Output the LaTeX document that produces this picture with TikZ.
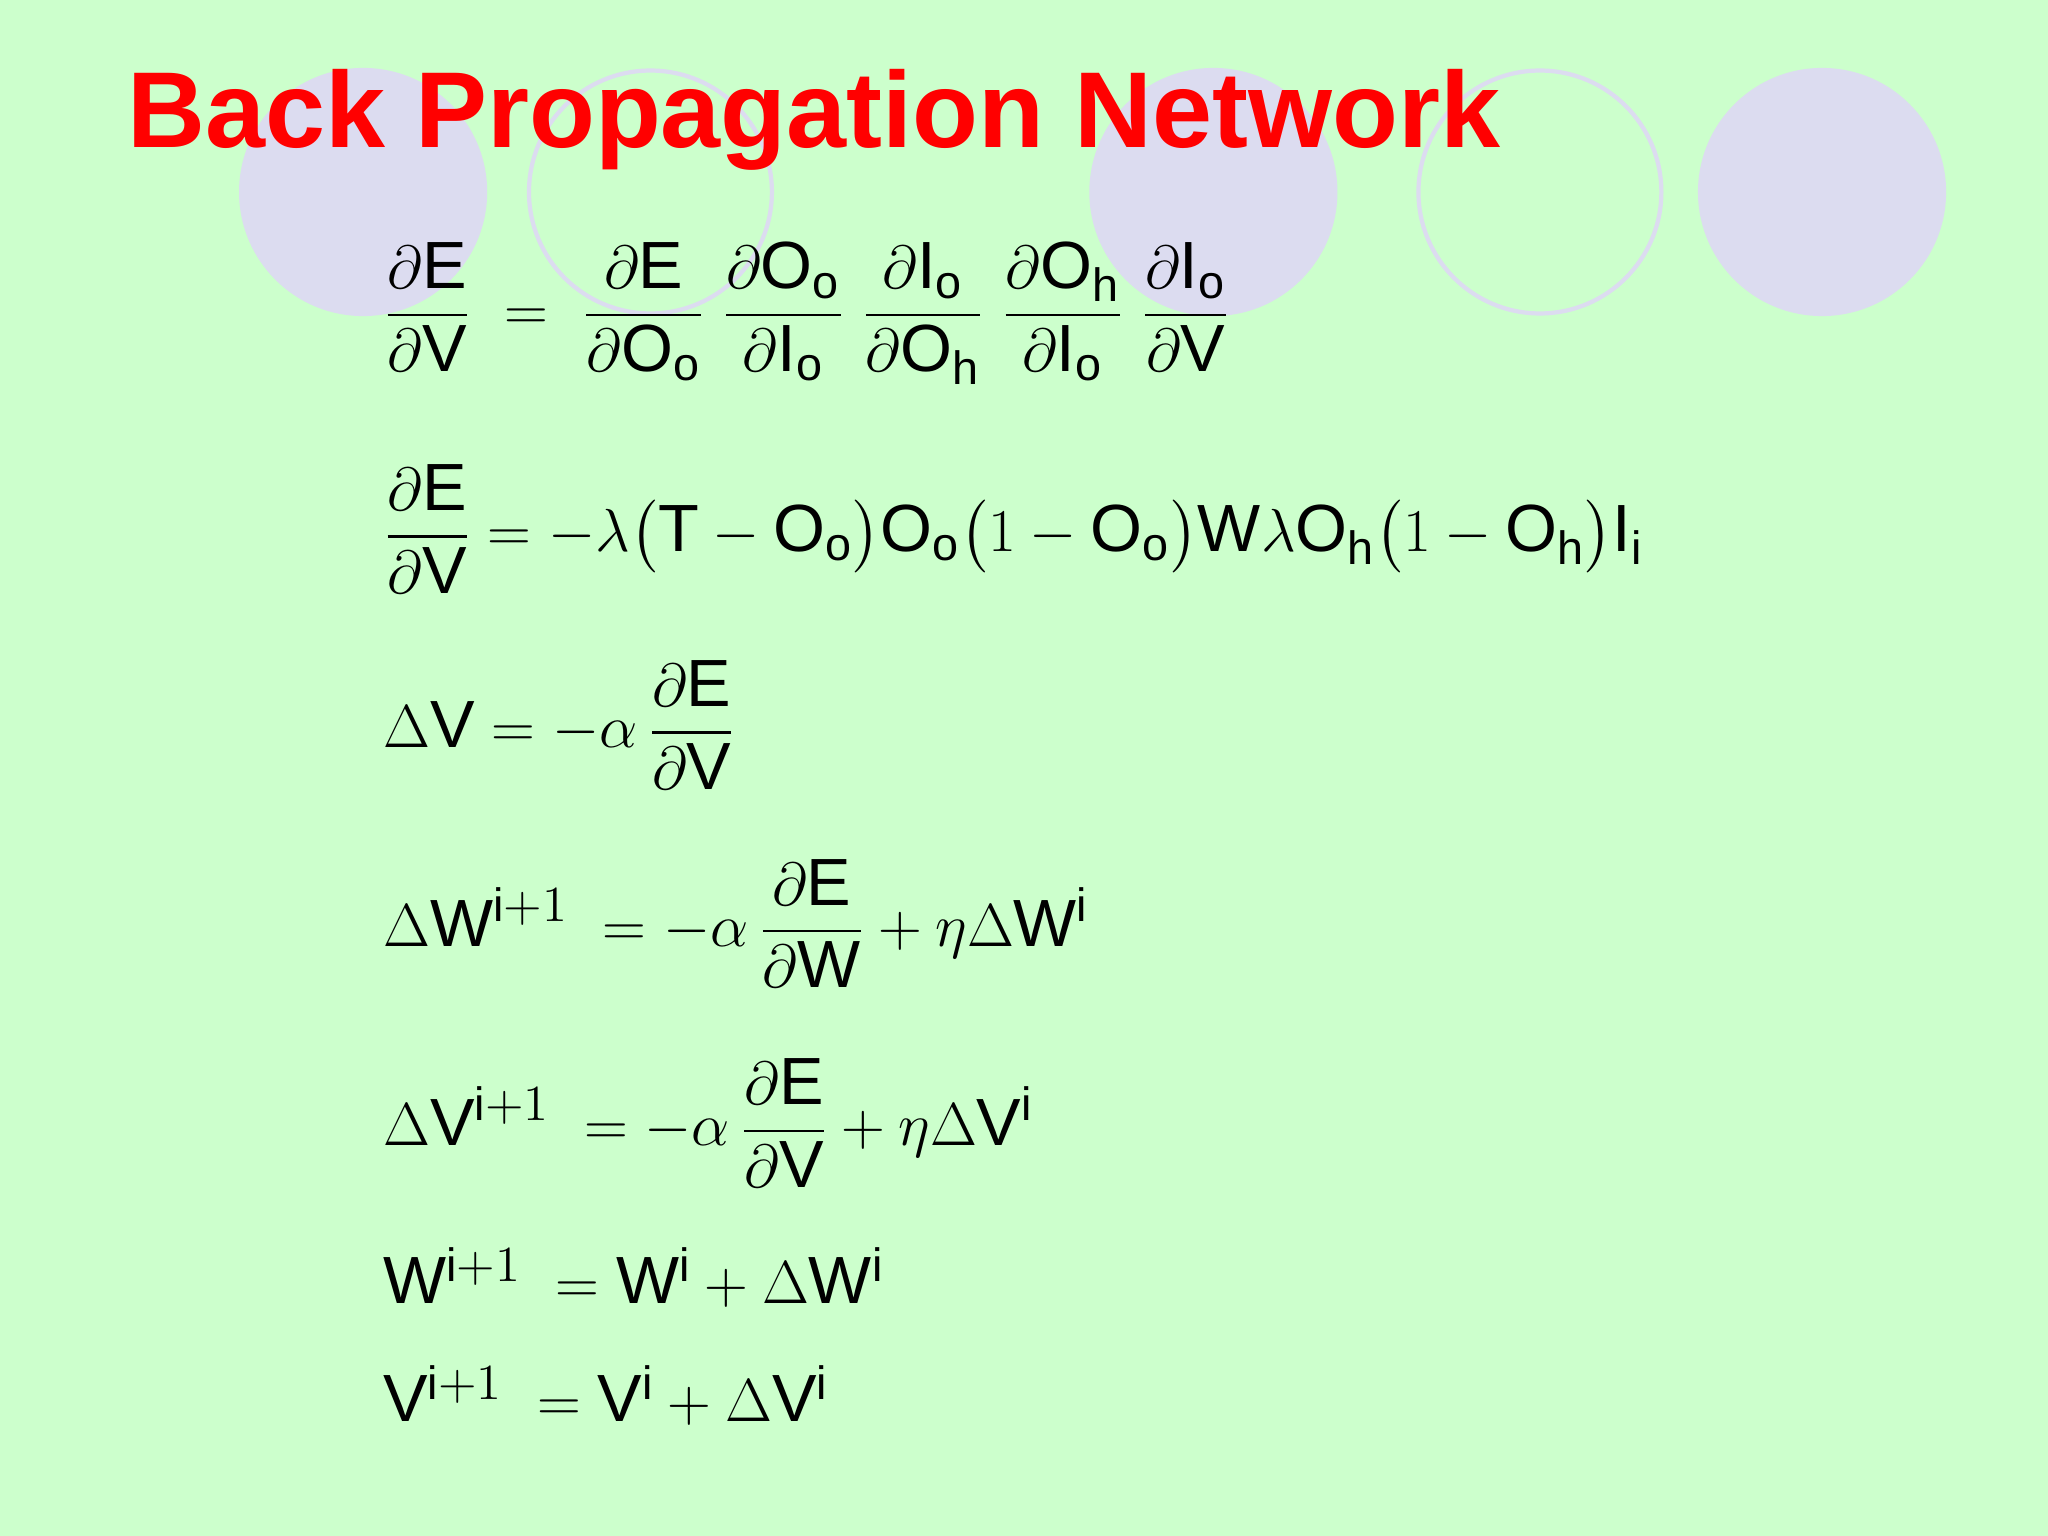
\documentclass[tikz,border=0pt]{standalone}
\usepackage{amsmath}
\usepackage{fontspec}
\setmainfont{Liberation Sans}
\definecolor{bg}{HTML}{CCFFCC}
\definecolor{lav}{HTML}{DCDCF0}
\tikzset{eq/.style={anchor=west,inner sep=0pt,font=\fontsize{19}{23}\selectfont}}
\newcommand\rr[1]{\mathrm{#1}}
\newcommand\ip{\rr{i}{+}1}
\begin{document}
\begin{tikzpicture}[x=0.01306cm,y=-0.01306cm]
\fill[bg] (0,0) rectangle (1568,1176);
\useasboundingbox (0,0) rectangle (1568,1176);
\fill[lav] (278,147) circle (95);
\draw[lav,line width=1.2pt] (498,147) circle (93);
\fill[lav] (929,147) circle (95);
\draw[lav,line width=1.2pt] (1179,147) circle (93);
\fill[lav] (1395,147) circle (95);
\node[anchor=base west,inner sep=0pt,text=red,font=\fontsize{30.7}{36}\selectfont\bfseries] (title) at (97,113) {Back Propagation Network};
\node[eq] (e1) at (293,240) {$\displaystyle \frac{\partial \rr{E}}{\partial \rr{V}}\;=\;\frac{\partial \rr{E}}{\partial \rr{O}_\rr{o}}\;\frac{\partial \rr{O}_\rr{o}}{\partial \rr{I}_\rr{o}}\;\frac{\partial \rr{I}_\rr{o}}{\partial \rr{O}_\rr{h}}\;\frac{\partial \rr{O}_\rr{h}}{\partial \rr{I}_\rr{o}}\;\frac{\partial \rr{I}_\rr{o}}{\partial \rr{V}}$};
\node[eq] (e2) at (293,405) {$\displaystyle \frac{\partial \rr{E}}{\partial \rr{V}}=-\lambda\bigl(\rr{T}-\rr{O}_\rr{o}\bigr)\rr{O}_\rr{o}\bigl(1-\rr{O}_\rr{o}\bigr)\rr{W}\lambda\rr{O}_\rr{h}\bigl(1-\rr{O}_\rr{h}\bigr)\rr{I}_\rr{i}$};
\node[eq] (e3) at (293,555) {$\displaystyle \Delta\rr{V}=-\alpha\,\frac{\partial \rr{E}}{\partial \rr{V}}$};
\node[eq] (e4) at (293,707) {$\displaystyle \Delta\rr{W}^{\ip}\;=-\alpha\,\frac{\partial \rr{E}}{\partial \rr{W}}+\eta\Delta\rr{W}^{\rr{i}}$};
\node[eq] (e5) at (293,860) {$\displaystyle \Delta\rr{V}^{\ip}\;=-\alpha\,\frac{\partial \rr{E}}{\partial \rr{V}}+\eta\Delta\rr{V}^{\rr{i}}$};
\node[eq,anchor=base west] (e6) at (293,998) {$\rr{W}^{\ip}\;=\rr{W}^{\rr{i}}+\Delta\rr{W}^{\rr{i}}$};
\node[eq,anchor=base west] (e7) at (293,1088) {$\rr{V}^{\ip}\;=\rr{V}^{\rr{i}}+\Delta\rr{V}^{\rr{i}}$};
\end{tikzpicture}
\end{document}
